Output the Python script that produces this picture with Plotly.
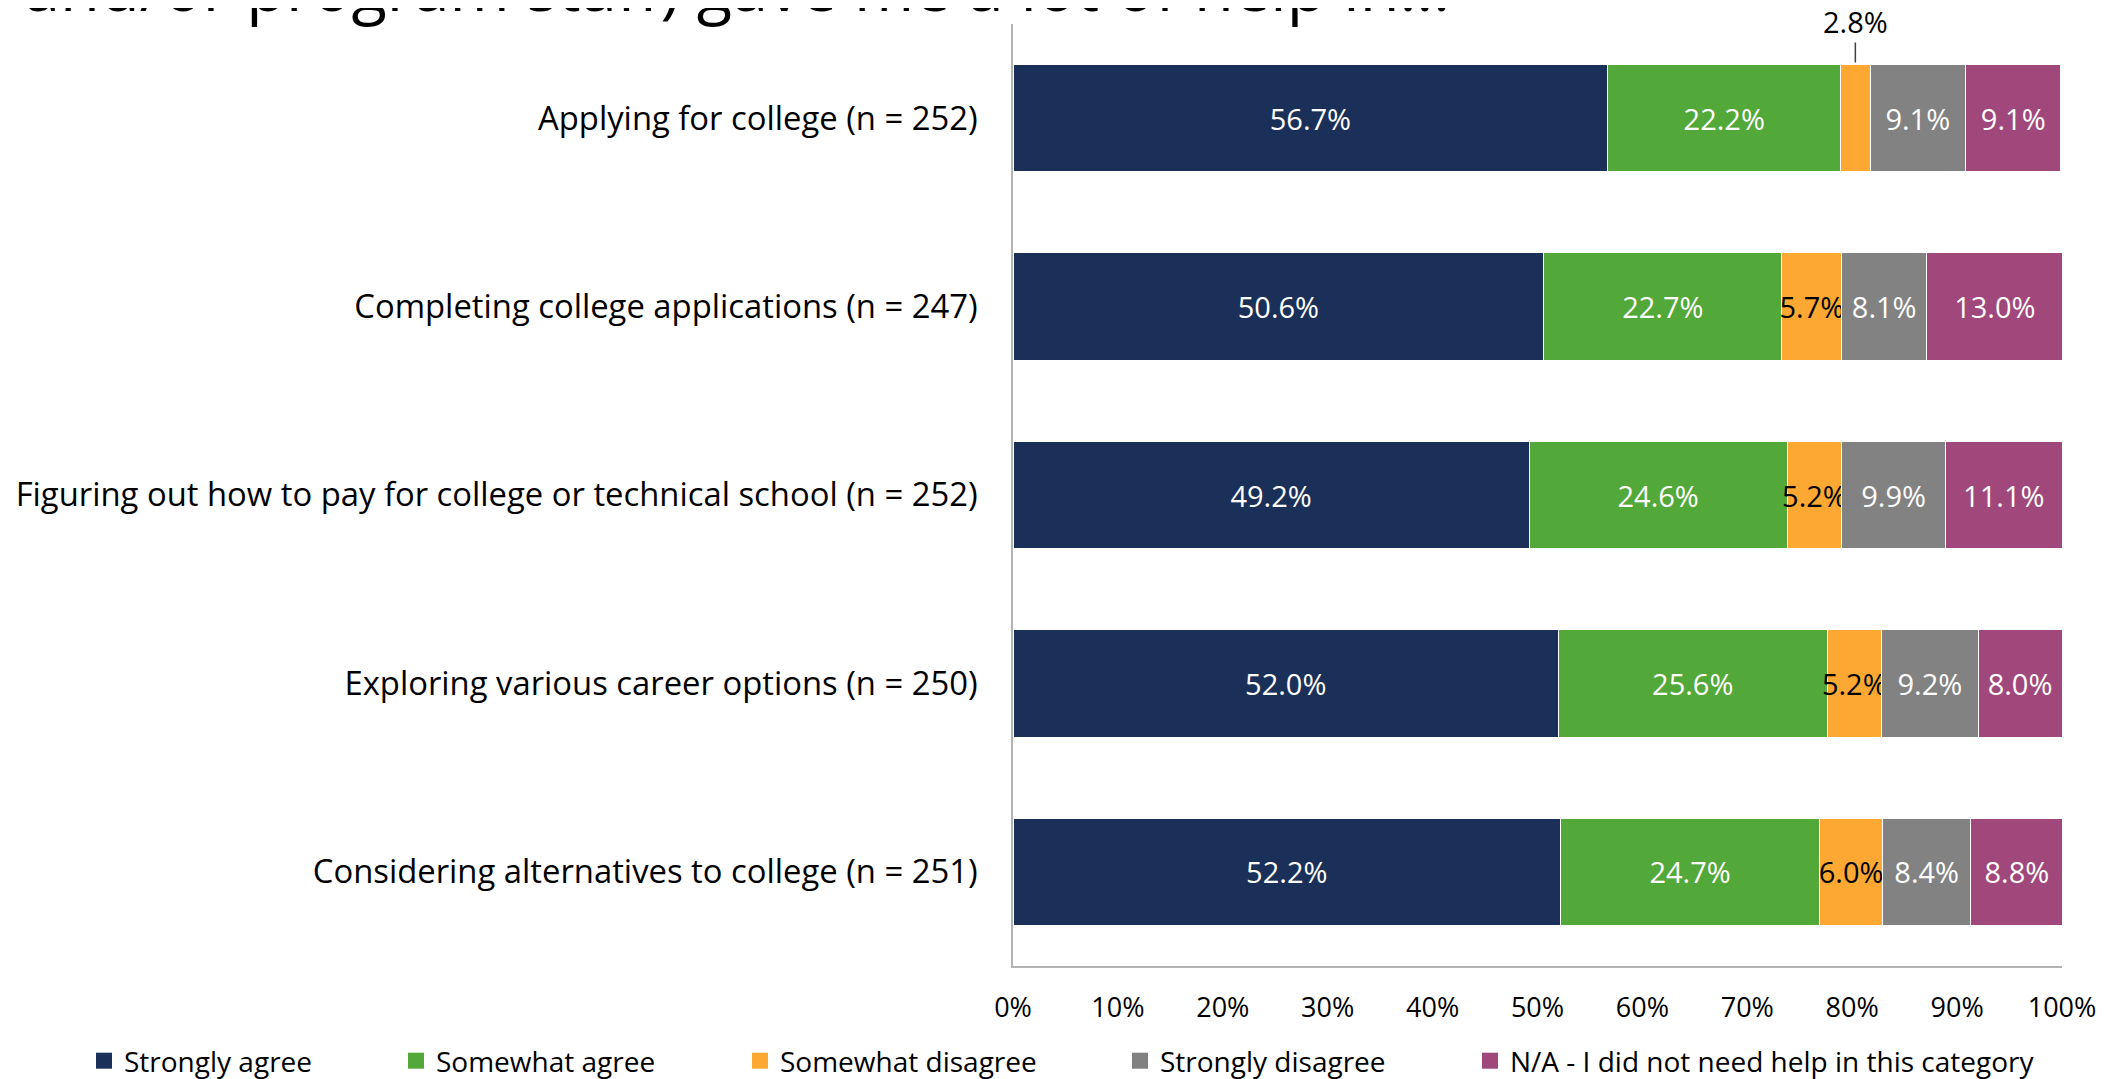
# stacked bar chart: how much help students got from program staff

import plotly.graph_objects as go

categories = [
    'Applying for college (n = 252)',
    'Completing college applications (n = 247)',
    'Figuring out how to pay for college or technical school (n = 252)',
    'Exploring various career options (n = 250)',
    'Considering alternatives to college (n = 251)',
]
series_names = [
    'Strongly agree',
    'Somewhat agree',
    'Somewhat disagree',
    'Strongly disagree',
    'N/A - I did not need help in this category',
]
strongly_agree = [56.7, 50.6, 49.2, 52.0, 52.2]
somewhat_agree = [22.2, 22.7, 24.6, 25.6, 24.7]
somewhat_disagree = [2.8, 5.7, 5.2, 5.2, 6.0]
strongly_disagree = [9.1, 8.1, 9.9, 9.2, 8.4]
not_needed = [9.1, 13.0, 11.1, 8.0, 8.8]
x_ticks = [0, 10, 20, 30, 40, 50, 60, 70, 80, 90, 100]
x_tick_labels = [f'{t}%' for t in x_ticks]

title_text = 'and/or program staff) gave me a lot of help in\u2026'

series = [strongly_agree, somewhat_agree, somewhat_disagree, strongly_disagree, not_needed]
colors = ['#1b3058', '#52a838', '#fca832', '#828282', '#a0477b']
text_colors = ['white', 'white', 'black', 'white', 'white']

FONT = 'Open Sans'
OFF = 8  # the page body adds an 8px margin around the figure
W, H = 2110 - OFF, 1079 - OFF
# plot area in page pixels: x 1013..2062, y 24..966
L, R, T, B = 1013 - OFF, W - (2062 - OFF), 24 - OFF, H - (966 - OFF)
BAR_WIDTH = 0.57


# convert page pixel positions to paper coordinates
def px_x(px):
    return (px - OFF - L) / (W - L - R)


def px_y(py):
    return (H - B - (py - OFF)) / (H - T - B)


fig = go.Figure()

for i, (name, vals) in enumerate(zip(series_names, series)):
    # the tiny 2.8% slice gets a callout instead of an inside label
    labels = ['' if v < 3 else f'{v:.1f}%' for v in vals]
    fig.add_trace(go.Bar(
        y=categories, x=vals, orientation='h', name=name,
        marker=dict(color=colors[i], line=dict(color='white', width=1)),
        text=labels, textposition='inside', insidetextanchor='middle',
        textangle=0, constraintext='none',
        textfont=dict(family=FONT, size=29, color=text_colors[i]),
        showlegend=False, legendgroup=name, hoverinfo='x+name',
    ))
    # legend entry with a bigger square symbol
    fig.add_trace(go.Scatter(
        x=[None], y=[None], mode='markers', name=name,
        marker=dict(symbol='square', size=16, color=colors[i]),
        legendgroup=name, showlegend=True,
        legend='legend' if i == 0 else f'legend{i + 1}',
    ))

# callout for the small slice
for j, v in enumerate(somewhat_disagree):
    if v < 3:
        fig.add_annotation(
            x=strongly_agree[j] + somewhat_agree[j] + v / 2, y=j - BAR_WIDTH / 2,
            xref='x', yref='y', text=f'{v:.1f}%', showarrow=True,
            arrowhead=0, arrowwidth=1.5, arrowcolor='#404040',
            ax=0, ay=-43, standoff=2,
            font=dict(family=FONT, size=29, color='black'),
        )

fig.add_annotation(
    text=title_text, xref='paper', yref='paper', x=px_x(22), y=px_y(32),
    xanchor='left', yanchor='bottom', showarrow=False,
    font=dict(family=FONT, size=65, color='black'),
)

legend_left = [84, 396, 740, 1120, 1470]
legend_style = dict(orientation='h', y=px_y(1061), yanchor='middle', xanchor='left',
                    font=dict(family=FONT, size=28, color='black'),
                    bgcolor='rgba(0,0,0,0)', itemclick=False)
legends = {}
for i, lx in enumerate(legend_left):
    key = 'legend' if i == 0 else f'legend{i + 1}'
    legends[key] = dict(x=px_x(lx), **legend_style)

fig.update_layout(
    width=W, height=H, barmode='stack', bargap=1 - BAR_WIDTH,
    margin=dict(l=L, r=R, t=T, b=B, autoexpand=False),
    plot_bgcolor='white', paper_bgcolor='white',
    font=dict(family=FONT, size=27, color='black'),
    xaxis=dict(range=[0, 100], tickvals=x_ticks, ticktext=x_tick_labels, showgrid=False,
               zeroline=False, showline=True, linecolor='#b3b3b3', linewidth=1.5,
               ticks='', ticklabelstandoff=17, fixedrange=True),
    yaxis=dict(autorange='reversed', showgrid=False, zeroline=False, showline=True,
               linecolor='#b3b3b3', linewidth=1.5, ticks='', ticklabelstandoff=27,
               tickfont=dict(family=FONT, size=32.8), fixedrange=True),
    **legends,
)

fig.write_html('out.html')
